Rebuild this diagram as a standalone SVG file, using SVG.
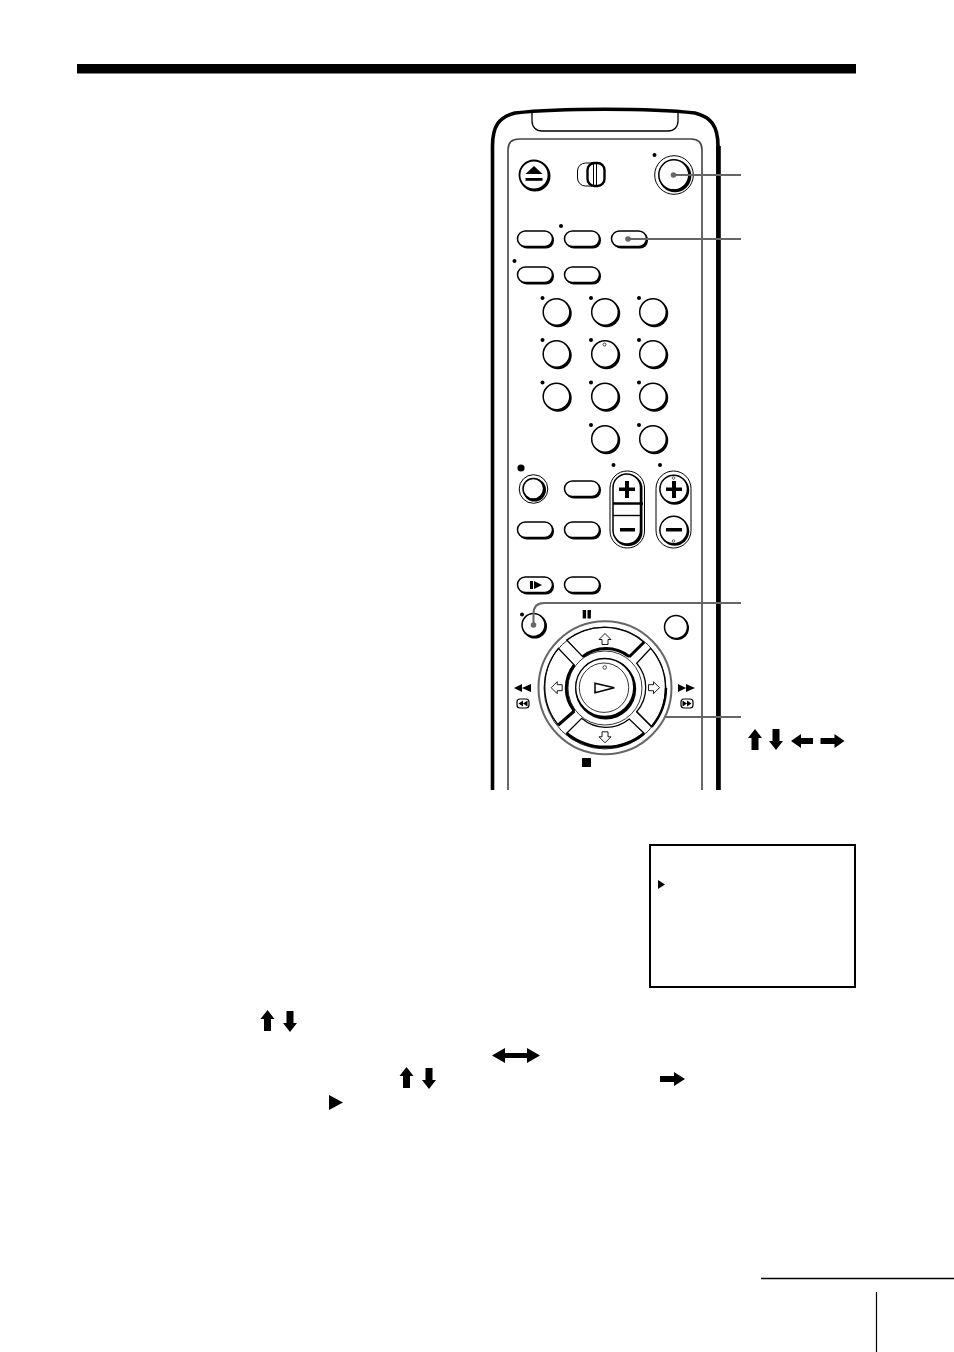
<svg xmlns="http://www.w3.org/2000/svg" width="954" height="1352" viewBox="0 0 954 1352">
<style>
.l{fill:none;stroke:#000;stroke-width:1.3}
.w{fill:#fff;stroke:#000;stroke-width:1.5}
.k{fill:#000}
.g{fill:none;stroke:#666;stroke-width:2}
.gd{fill:#666}
.body{fill:none;stroke:#000;stroke-width:3.600}
.t{fill:none;stroke:#000;stroke-width:3}
</style>
<defs>
<g id="round"><circle cx="1.500" cy="1.500" r="13.700" class="k"/><circle r="13.300" class="w"/></g>
<g id="oval"><rect x="-16.500" y="-7" width="35" height="16.500" rx="8" class="k"/><rect x="-18" y="-8" width="35" height="15.600" rx="7.800" class="w"/></g>
<path id="up" d="M0 0L7 9H3.500V21H-3.500V9H-7Z" class="k"/>
<path id="down" d="M-3.500 0H3.500V12H7L0 21L-7 12H-3.500Z" class="k"/>
<path id="right" d="M0 -3H14V-7L24 0L14 7V3H0Z" class="k"/>
<path id="left" d="M0 0L10 -7V-3H22V3H10V7Z" class="k"/>
<circle id="dot" r="2" class="k"/>
<path id="oarrow" d="M0 -5.500L6 0.500H3V5.500H-3V0.500H-6Z" fill="#fff" stroke="#000" stroke-width="0.900"/>
</defs>
<rect width="954" height="1352" fill="#fff"/>
<rect id="top-bar" x="77" y="64" width="779" height="9.500" class="k"/>

<g id="remote">
<path class="body" d="M492.500 790V146C492.500 126 499 117 515 113C560 108 650 108 695 113C711 117 718 126 718 146V790"/>
<path d="M718.500 146V790" stroke="#000" stroke-width="4.600" fill="none"/>
<path class="l" d="M532 112V121C532 127 536 131 542 131H668C674 131 678 127 678 121V112"/>
<path d="M508 790V150C508 143 512 139 519 139H691C698 139 702 143 702 150V790" fill="none" stroke="#444" stroke-width="1.600"/>
</g>

<g id="eject"><circle cx="535" cy="176" r="15.500" class="k"/><circle cx="534" cy="175" r="14.500" fill="#fff" stroke="#000" stroke-width="1.800"/><path d="M534 166L542.500 174H525.500Z" class="k"/><rect x="525.500" y="178" width="17" height="2.800" class="k"/></g>
<g id="slider"><rect x="577.500" y="163" width="27" height="23" rx="8" fill="#fff" stroke="#000" stroke-width="1"/><rect x="587.500" y="163" width="17" height="23" rx="7" fill="#fff" stroke="#000" stroke-width="2.400"/><path d="M593.500 164V185M596.500 164V185" stroke="#000" stroke-width="1" fill="none"/></g>
<g id="power"><use href="#dot" x="654.500" y="155"/><circle cx="674" cy="175" r="19.300" fill="#fff" stroke="#000" stroke-width="1"/><circle cx="675" cy="176" r="16.300" class="k"/><circle cx="673.800" cy="174.800" r="15" class="w"/></g>

<g id="buttons-top">
<use href="#oval" x="535.500" y="239"/><use href="#oval" x="582.500" y="239"/><use href="#oval" x="629.500" y="239"/>
<use href="#oval" x="535.500" y="275"/><use href="#oval" x="582.500" y="275"/>
<use href="#dot" x="561" y="226"/><use href="#dot" x="514.500" y="261"/>
</g>

<g id="numpad">
<use href="#round" x="556.500" y="312"/><use href="#round" x="605" y="312"/><use href="#round" x="653" y="312"/>
<use href="#round" x="556.500" y="354"/><use href="#round" x="605" y="354"/><use href="#round" x="653" y="354"/>
<use href="#round" x="556.500" y="396.500"/><use href="#round" x="605" y="396.500"/><use href="#round" x="653" y="396.500"/>
<use href="#round" x="605" y="439"/><use href="#round" x="653" y="439"/>
<use href="#dot" x="542.500" y="298"/><use href="#dot" x="591" y="298"/><use href="#dot" x="639" y="298"/>
<use href="#dot" x="542.500" y="340"/><use href="#dot" x="591" y="340"/><use href="#dot" x="639" y="340"/>
<use href="#dot" x="542.500" y="382.500"/><use href="#dot" x="591" y="382.500"/><use href="#dot" x="639" y="382.500"/>
<use href="#dot" x="591" y="425"/><use href="#dot" x="639" y="425"/>
<circle cx="604.500" cy="344.500" r="1.500" fill="#fff" stroke="#000" stroke-width="0.700"/>
</g>

<g id="record"><circle cx="521" cy="468" r="3.600" class="k"/><circle cx="533.500" cy="489" r="14.300" fill="#fff" stroke="#000" stroke-width="1"/><circle cx="534.500" cy="490" r="11.500" class="k"/><circle cx="533.300" cy="488.800" r="10.300" class="w"/></g>
<g id="buttons-mid">
<use href="#oval" x="582.500" y="489"/><use href="#oval" x="535.500" y="530"/><use href="#oval" x="582.500" y="530"/>
<use href="#oval" x="582.500" y="585"/><use href="#oval" x="535.500" y="585"/>
<path d="M530 581H533V589H530ZM534 581L542 585L534 589Z" class="k"/>
</g>

<g id="volume">
<use href="#dot" x="613.500" y="465"/>
<rect x="610" y="471" width="34.500" height="77" rx="17" fill="#fff" stroke="#000" stroke-width="1"/>
<rect x="613.500" y="474.500" width="29" height="71.500" rx="14" class="k"/>
<rect x="613" y="474" width="27.500" height="70" rx="13.700" class="w"/>
<path d="M613 503.500H643" stroke="#000" stroke-width="2.500"/>
<path d="M613 515.500H642" stroke="#000" stroke-width="1.400"/>
<path d="M625 481H629V487.500H635V491H629V498H625V491H619V487.500H625Z" class="k"/>
<rect x="620" y="528" width="15" height="3.500" class="k"/>
</g>
<g id="channel">
<use href="#dot" x="660" y="465"/>
<rect x="656" y="471" width="35" height="77" rx="17.500" fill="#fff" stroke="#000" stroke-width="1"/>
<circle cx="674.700" cy="490.200" r="14.500" class="k"/><circle cx="673.700" cy="489" r="13.800" class="w"/>
<circle cx="674.700" cy="531.200" r="14.500" class="k"/><circle cx="673.700" cy="530" r="13.800" class="w"/>
<path d="M672 481H676V487.500H682V491H676V498H672V491H666V487.500H672Z" class="k"/>
<rect x="666" y="528" width="16" height="3.500" class="k"/>
<circle cx="673.500" cy="478" r="1.300" fill="#fff" stroke="#000" stroke-width="0.600"/>
<circle cx="673.500" cy="541" r="1.300" fill="#fff" stroke="#000" stroke-width="0.600"/>
</g>

<g id="pause-button"><use href="#dot" x="522" y="614.500"/><circle cx="534.700" cy="626.200" r="12.300" class="k"/><circle cx="533.500" cy="625" r="11.500" class="w"/></g>
<g id="pause-icon"><rect x="582.700" y="610" width="3.400" height="8.500" class="k"/><rect x="587.500" y="610" width="3.400" height="8.500" class="k"/></g>
<g id="right-button"><circle cx="677" cy="628" r="12" class="k"/><circle cx="676" cy="627" r="11.500" class="w"/></g>

<g id="dial">
<circle cx="605" cy="687.800" r="66.500" fill="#fff" stroke="#666" stroke-width="2"/>
<circle cx="605" cy="688" r="61" fill="none" stroke="#000" stroke-width="0.800"/>
<circle cx="605" cy="688" r="37" fill="none" stroke="#000" stroke-width="0.800"/>
<path class="l" d="M566.700 640A61 61 0 0 1 644 642.300L629.300 656.700A37 37 0 0 0 582.700 656.700Z" fill="#fff"/>
<path class="l" d="M558.300 648.300A61 61 0 0 0 558.300 725L574.300 711A37 37 0 0 1 574.300 665Z"/>
<path class="l" d="M650.700 648.300A61 61 0 0 1 651.700 726.700L636.700 711.700A37 37 0 0 0 636.700 663.300Z"/>
<path class="l" d="M566.700 733.300A61 61 0 0 0 644 733.300L629.300 719A37 37 0 0 1 581.700 718.300Z"/>
<path class="t" d="M629.300 656.700L644 642.300"/>
<path class="t" d="M558.300 725L574.300 711"/>
<path d="M636.700 711.700L651.700 726.700" class="l" stroke-width="1.800"/>
<path d="M582.700 656.700A37 37 0 0 1 629.300 656.700" class="t"/>
<path d="M574.300 665A37 37 0 0 0 574.300 711" class="t"/>
<path d="M566.700 733.300A61 61 0 0 0 644 733.300" class="t"/>
<path d="M651.700 726.700A61 61 0 0 0 666 688" fill="none" stroke="#000" stroke-width="2.400"/>
<circle cx="605.700" cy="689" r="30.500" class="k"/>
<circle cx="604.700" cy="687.500" r="29" fill="#fff" stroke="#000" stroke-width="1.300"/>
<circle cx="604" cy="687.700" r="24.700" fill="none" stroke="#000" stroke-width="0.800"/>
<circle cx="604.700" cy="667.500" r="1.800" fill="#fff" stroke="#000" stroke-width="0.700"/>
<path d="M595 683.300L614.300 687.700L595 692.700Z" class="w"/>
<use href="#oarrow" x="605" y="639"/>
<use href="#oarrow" transform="translate(605 737.300) rotate(180)"/>
<use href="#oarrow" transform="translate(556.700 687.700) rotate(-90)"/>
<use href="#oarrow" transform="translate(654 687.700) rotate(90)"/>
</g>
<g id="transport-icons">
<path d="M514 688L522 684V692ZM522 688L531 684V692Z" class="k"/>
<path d="M678 684L686 688L678 692ZM686 684L695 688L686 692Z" class="k"/>
<rect x="517" y="699" width="12" height="9" rx="3" fill="#fff" stroke="#000" stroke-width="1.200"/><path d="M518.500 703.500L523 700.500V706.500ZM523 703.500L527.500 700.500V706.500Z" class="k"/>
<rect x="681" y="699" width="12" height="9" rx="3" fill="#fff" stroke="#000" stroke-width="1.200"/><path d="M682.500 700.500L687 703.500L682.500 706.500ZM687 700.500L691.500 703.500L687 706.500Z" class="k"/>
<rect x="582" y="758" width="9" height="9" class="k"/>
</g>

<g id="connectors">
<circle cx="673.500" cy="175" r="2.800" class="gd"/><path class="g" d="M673.500 175H741"/>
<circle cx="628" cy="239" r="2.800" class="gd"/><path class="g" d="M628 239H741"/>
<circle cx="533.500" cy="625" r="2.800" class="gd"/><path class="g" d="M533.500 625V614C533.500 607 537 603 544 603H741"/>
<path class="g" d="M664 717H741"/>
</g>

<g id="key-arrows">
<use href="#up" x="755" y="729"/><use href="#down" x="776" y="729"/>
<use href="#left" x="791" y="741"/><use href="#right" x="820.500" y="741"/>
</g>

<g id="screen">
<rect x="650" y="845" width="205" height="142" fill="#fff" stroke="#000" stroke-width="2"/>
<path d="M658 880L665 884.500L658 889Z" class="k"/>
</g>

<g id="text-arrows">
<use href="#up" x="267.500" y="1010"/><use href="#down" x="290" y="1011"/>
<path d="M492 1055.500L505 1048V1053H527V1048L540 1055.500L527 1063V1058H505V1063Z" class="k"/>
<use href="#up" x="406.500" y="1067"/><use href="#down" x="429" y="1068"/>
<path d="M660 1076H674V1072L685 1079L674 1086V1082H660Z" class="k"/>
<path d="M329 1095L343 1102.500L329 1110Z" class="k"/>
</g>

<g id="page-marks">
<path d="M761 1278.500H954" stroke="#000" stroke-width="1.600"/>
<path d="M876.500 1292V1352" stroke="#000" stroke-width="1.200"/>
</g>
</svg>
